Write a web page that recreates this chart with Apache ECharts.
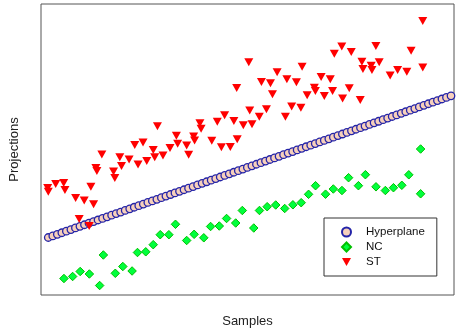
<!DOCTYPE html>
<html>
<head>
<meta charset="utf-8">
<script src="https://cdn.jsdelivr.net/npm/echarts@6/dist/echarts.min.js"></script>
<style>
html,body{margin:0;padding:0;background:#fff;}
#chart{width:459px;height:335px;}
</style>
</head>
<body>
<div id="chart"></div>
<script>
// Sample index for the hyperplane points (1..90)
const hyperX = [1,2,3,4,5,6,7,8,9,10,11,12,13,14,15,16,17,18,19,20,21,22,23,24,25,26,27,28,29,30,
  31,32,33,34,35,36,37,38,39,40,41,42,43,44,45,46,47,48,49,50,51,52,53,54,55,56,57,58,59,60,
  61,62,63,64,65,66,67,68,69,70,71,72,73,74,75,76,77,78,79,80,81,82,83,84,85,86,87,88,89,90];
const hyperY = [19.76,20.31,20.85,21.40,21.95,22.50,23.04,23.59,24.14,24.68,25.23,25.78,26.33,26.87,27.42,
  27.97,28.51,29.06,29.61,30.16,30.70,31.25,31.80,32.34,32.89,33.44,33.98,34.53,35.08,35.63,
  36.17,36.72,37.27,37.81,38.36,38.91,39.46,40.00,40.55,41.10,41.64,42.19,42.74,43.29,43.83,
  44.38,44.93,45.47,46.02,46.57,47.12,47.66,48.21,48.76,49.30,49.85,50.40,50.95,51.49,52.04,
  52.59,53.13,53.68,54.23,54.77,55.32,55.87,56.42,56.96,57.51,58.06,58.60,59.15,59.70,60.25,
  60.79,61.34,61.89,62.43,62.98,63.53,64.08,64.62,65.17,65.72,66.26,66.81,67.36,67.91,68.45];

const ncX = [4.46,6.38,8.05,10.08,12.35,13.17,15.81,17.47,19.52,20.71,22.54,24.19,25.74,27.65,29.11,
  31.58,33.23,35.37,36.87,38.79,40.40,42.42,43.88,46.41,47.67,49.37,51.26,53.25,55.06,56.89,
  58.52,60.06,62.27,63.99,65.90,67.36,69.54,71.08,73.42,75.49,77.28,79.13,80.67,83.28,83.28];
const ncY = [5.67,6.36,8.08,7.22,3.26,13.75,7.46,9.79,8.25,14.60,14.85,17.29,20.72,20.72,24.30,
  18.73,20.86,19.66,23.54,23.71,26.29,24.74,29.04,23.02,29.04,30.34,30.93,29.73,31.00,31.72,
  34.60,37.56,34.64,36.43,35.91,40.31,37.56,41.34,37.18,35.91,36.87,37.70,41.31,50.17,34.78];

const stX = [0.87,1.00,2.63,4.40,4.68,7.04,7.83,8.94,10.04,10.41,11.01,11.52,11.74,12.84,15.42,
  15.70,16.81,17.18,18.86,20.11,20.84,21.94,22.76,24.19,24.52,25.12,26.35,27.90,29.31,29.59,
  31.58,32.02,33.12,33.34,34.51,34.77,37.13,38.35,39.25,39.96,41.23,42.01,42.75,42.64,44.10,
  45.31,45.51,46.02,47.63,48.11,49.21,50.10,50.54,51.57,53.40,53.73,54.79,55.83,56.82,57.09,
  58.21,59.80,60.02,61.30,62.00,63.32,63.83,64.21,65.86,66.04,67.51,67.95,69.94,70.31,70.53,
  72.36,72.52,73.40,74.13,76.55,78.20,80.23,81.18,83.76,83.76];
const stY = [36.77,35.50,38.14,38.49,36.08,33.33,26.12,32.47,23.71,37.22,31.17,43.64,42.61,48.28,42.44,
  40.21,47.32,44.33,46.56,51.55,44.85,52.41,46.05,49.83,47.32,57.97,47.94,50.52,54.74,51.99,
  51.37,48.21,54.47,53.09,59.04,57.11,53.02,59.52,50.76,61.79,50.86,59.79,53.51,71.13,58.35,
  79.97,63.40,58.69,61.27,73.20,63.85,72.75,69.00,76.56,61.27,74.16,64.78,73.13,64.36,78.45,
  68.66,71.24,70.10,74.91,68.38,74.16,70.10,82.89,85.40,67.53,71.07,83.51,67.01,80.17,77.66,
  78.80,77.32,85.57,80.00,75.43,77.32,76.70,83.95,78.18,94.16];

const seriesNames = ['Hyperplane','NC','ST'];
const xTitle = 'Samples';
const yTitle = 'Projections';

function zip(xs, ys){ return xs.map((x,i)=>[x, ys[i]]); }

const font = 'Liberation Sans, Arial, Helvetica, sans-serif';
const chart = echarts.init(document.getElementById('chart'), null, {renderer:'canvas'});
chart.setOption({
  animation:false,
  backgroundColor:'#ffffff',
  grid:{left:40, top:4, right:5, bottom:40, show:true, borderColor:'#555', borderWidth:1, backgroundColor:'transparent'},
  xAxis:{type:'value', min:-0.61, max:90.66, name:xTitle, nameLocation:'middle', nameGap:20,
    nameTextStyle:{fontFamily:font, fontSize:13, color:'#222'},
    axisLine:{show:false}, axisTick:{show:false}, axisLabel:{show:false}, splitLine:{show:false}},
  yAxis:{type:'value', min:0, max:100, name:yTitle, nameLocation:'middle', nameGap:20,
    nameTextStyle:{fontFamily:font, fontSize:13, color:'#222'},
    axisLine:{show:false}, axisTick:{show:false}, axisLabel:{show:false}, splitLine:{show:false}},
  legend:{
    orient:'vertical', left:324, top:218,
    padding:[7,12,7,17], itemGap:1, itemWidth:9, itemHeight:9,
    borderColor:'#333', borderWidth:1, backgroundColor:'#fff',
    textStyle:{fontFamily:font, fontSize:11.5, color:'#111', lineHeight:14, padding:[0,0,0,10]},
    data:[
      {name:seriesNames[0]},
      {name:seriesNames[1]},
      {name:seriesNames[2], icon:'path://M0,0 L10,0 L5,9 Z'}
    ]
  },
  series:[
    {name:seriesNames[0], type:'scatter', data:zip(hyperX, hyperY), symbol:'circle', symbolSize:7.5,
      itemStyle:{color:'#f6d0bc', borderColor:'#2424a8', borderWidth:1.3, opacity:1}},
    {name:seriesNames[1], type:'scatter', data:zip(ncX, ncY), symbol:'diamond', symbolSize:8.5,
      itemStyle:{color:'#00ff3c', borderColor:'#00c000', borderWidth:1, opacity:1}},
    {name:seriesNames[2], type:'scatter', data:zip(stX, stY), symbol:'triangle', symbolSize:[9,8], symbolRotate:180,
      itemStyle:{color:'#ff0000', opacity:1}}
  ]
});
</script>
</body>
</html>
